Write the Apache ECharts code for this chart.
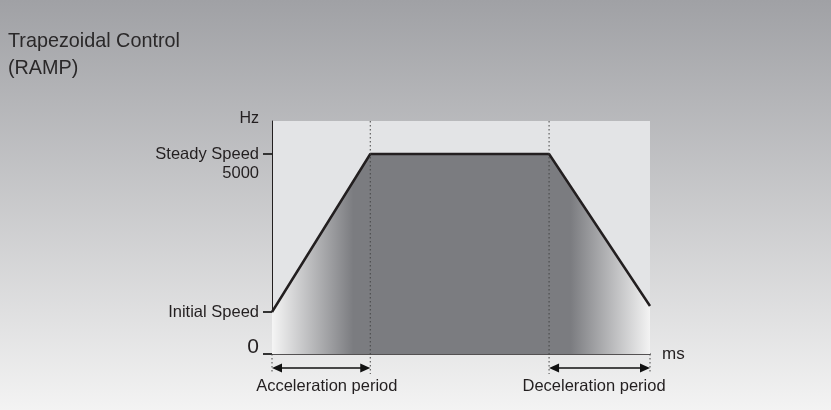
<!DOCTYPE html>
<html>
<head>
<meta charset="utf-8">
<script src="https://cdn.jsdelivr.net/npm/echarts@6/dist/echarts.min.js"></script>
<style>
  html, body { margin: 0; padding: 0; }
  #chart { width: 831px; height: 410px; background: linear-gradient(#a0a1a5, #f3f3f3); }
</style>
</head>
<body>
<div id="chart"></div>
<script>
// speed profile (ms on x, Hz on y)
var timeMs = [0, 26, 73.3, 100];
var speedHz = [1050, 5000, 5000, 1200];
var yMaxHz = 5825;

// y axis tick positions
var yTickValues = [0, 1050, 5000];

// dotted guide lines: x position and how high they go
var guideX = [0, 26, 73.3, 100];
var guideTop = [0, 5825, 5825, 0];

// periods under the axis
var periodNames = ['Acceleration period', 'Deceleration period'];
var periodFrom = [0, 73.3];
var periodTo = [26, 100];
var periodLabelX = [14.5, 85.2];

var ink = '#231f20';
var font = 'Liberation Sans, Arial, sans-serif';

var chart = echarts.init(document.getElementById('chart'));

chart.setOption({
    backgroundColor: 'transparent',
    animation: false,
    title: {
        text: 'Trapezoidal Control\n(RAMP)',
        left: 3,
        top: 23,
        textStyle: {
            fontSize: 19.8,
            lineHeight: 27,
            fontWeight: 'normal',
            color: '#2a2829',
            fontFamily: font
        }
    },
    grid: {
        left: 272,
        right: 181,
        top: 121,
        bottom: 56,
        show: true,
        backgroundColor: '#e3e4e6',
        borderWidth: 0
    },
    xAxis: {
        type: 'value',
        min: 0,
        max: 100,
        name: 'ms',
        nameLocation: 'end',
        nameGap: 12,
        nameTextStyle: {
            fontSize: 17,
            color: ink,
            fontFamily: font,
            verticalAlign: 'middle',
            padding: [0, 0, 14, 0]
        },
        axisLine: { show: true, lineStyle: { color: ink, width: 1.5 } },
        axisTick: { show: false },
        axisLabel: { show: false },
        splitLine: { show: false }
    },
    yAxis: {
        type: 'value',
        min: 0,
        max: yMaxHz,
        name: 'Hz',
        nameLocation: 'end',
        nameGap: 0,
        nameTextStyle: {
            fontSize: 16,
            color: ink,
            fontFamily: font,
            align: 'right',
            verticalAlign: 'middle',
            padding: [6, 13, 0, 0]
        },
        axisLine: { show: true, lineStyle: { color: ink, width: 1 } },
        axisTick: {
            show: true,
            length: 9,
            customValues: yTickValues,
            lineStyle: { color: '#333', width: 2 }
        },
        axisLabel: {
            margin: 13,
            customValues: yTickValues,
            formatter: function(v) {
                if (v === 5000) return '{s| }\n{s|Steady Speed}\n{s|5000}';
                if (v === 0) return '{z|0}';
                return '{s|Initial Speed}';
            },
            rich: {
                s: { fontSize: 16.5, lineHeight: 19, color: ink, fontFamily: font, align: 'right' },
                z: { fontSize: 21, color: ink, fontFamily: font, padding: [0, 0, 14, 0] }
            }
        },
        splitLine: { show: false }
    },
    series: [{
        type: 'line',
        data: timeMs.map(function(t, i) { return [t, speedHz[i]]; }),
        symbol: 'none',
        lineStyle: { color: ink, width: 2.5 },
        areaStyle: {
            opacity: 1,
            color: new echarts.graphic.LinearGradient(0, 0, 1, 0, [
                { offset: 0, color: '#f5f5f5' },
                { offset: 0.215, color: '#7b7c80' },
                { offset: 0.79, color: '#7b7c80' },
                { offset: 1, color: '#f3f3f3' }
            ])
        },
        z: 2
    }, {
        // dotted guides
        type: 'custom',
        clip: false,
        z: 3,
        data: guideX.map(function(x, i) { return [x, guideTop[i]]; }),
        renderItem: function(params, api) {
            var p1 = api.coord([api.value(0), api.value(1)]);
            var p2 = api.coord([api.value(0), -500]);
            return {
                type: 'line',
                shape: { x1: p1[0], y1: p1[1], x2: p2[0], y2: p2[1] },
                style: { stroke: '#444', lineWidth: 1, lineDash: [1.5, 2.5] }
            };
        }
    }, {
        // period arrows + labels
        type: 'custom',
        clip: false,
        z: 4,
        data: periodFrom.map(function(f, i) { return [f, periodTo[i], periodLabelX[i]]; }),
        renderItem: function(params, api) {
            var a = api.coord([api.value(0), -350]);
            var b = api.coord([api.value(1), -350]);
            var t = api.coord([api.value(2), -800]);
            var head = 10, half = 4.5;
            return {
                type: 'group',
                children: [{
                    type: 'line',
                    shape: { x1: a[0] + 4, y1: a[1], x2: b[0] - 4, y2: b[1] },
                    style: { stroke: '#111', lineWidth: 1.5 }
                }, {
                    type: 'polygon',
                    shape: { points: [[a[0], a[1]], [a[0] + head, a[1] - half], [a[0] + head, a[1] + half]] },
                    style: { fill: '#111' }
                }, {
                    type: 'polygon',
                    shape: { points: [[b[0], b[1]], [b[0] - head, b[1] - half], [b[0] - head, b[1] + half]] },
                    style: { fill: '#111' }
                }, {
                    type: 'text',
                    style: {
                        text: periodNames[params.dataIndex],
                        x: t[0],
                        y: t[1],
                        align: 'center',
                        verticalAlign: 'middle',
                        fontSize: 16.5,
                        fontFamily: font,
                        fill: ink
                    }
                }]
            };
        }
    }]
});
</script>
</body>
</html>
